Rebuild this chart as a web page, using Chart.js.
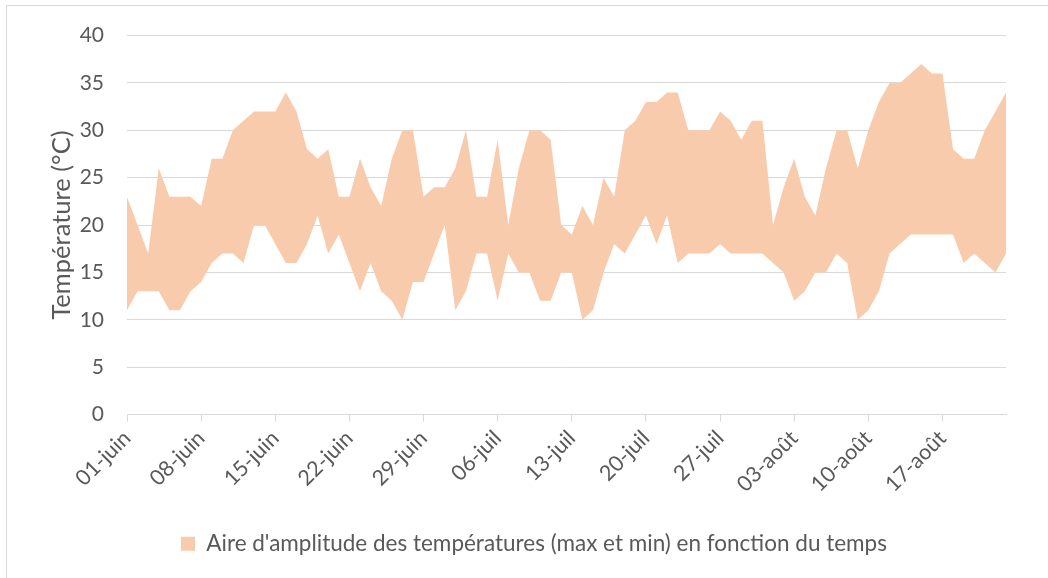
<!DOCTYPE html>
<html>
<head>
<meta charset="utf-8">
<script src="https://cdn.jsdelivr.net/npm/chart.js@4"></script>
<style>
  body { margin: 0; background: #fff; }
  #frame { position: absolute; left: 6px; top: 5px; width: 1100px; height: 640px; border: 1px solid #d9d9d9; }
  #chart { position: absolute; left: 0; top: 0; }
</style>
</head>
<body>
<div id="frame"></div>
<canvas id="chart" width="1048" height="578"></canvas>
<script>
  var days = [
    '01-juin','02-juin','03-juin','04-juin','05-juin','06-juin','07-juin','08-juin','09-juin','10-juin',
    '11-juin','12-juin','13-juin','14-juin','15-juin','16-juin','17-juin','18-juin','19-juin','20-juin',
    '21-juin','22-juin','23-juin','24-juin','25-juin','26-juin','27-juin','28-juin','29-juin','30-juin',
    '01-juil','02-juil','03-juil','04-juil','05-juil','06-juil','07-juil','08-juil','09-juil','10-juil',
    '11-juil','12-juil','13-juil','14-juil','15-juil','16-juil','17-juil','18-juil','19-juil','20-juil',
    '21-juil','22-juil','23-juil','24-juil','25-juil','26-juil','27-juil','28-juil','29-juil','30-juil',
    '31-juil','01-août','02-août','03-août','04-août','05-août','06-août','07-août','08-août','09-août',
    '10-août','11-août','12-août','13-août','14-août','15-août','16-août','17-août','18-août','19-août',
    '20-août','21-août','22-août','23-août'
  ];

  var tempMax = [
    23, 20, 17, 26, 23, 23, 23, 22, 27, 27, 30, 31, 32, 32, 32, 34, 32, 28, 27, 28, 23,
    23, 27, 24, 22, 27, 30, 30, 23, 24, 24, 26, 30, 23, 23, 29, 20, 26, 30, 30, 29, 20, 19,
    22, 20, 25, 23, 30, 31, 33, 33, 34, 34, 30, 30, 30, 32, 31, 29, 31, 31, 20, 24, 27,
    23, 21, 26, 30, 30, 26, 30, 33, 35, 35, 36, 37, 36, 36, 28, 27, 27, 30, 32, 34
  ];

  var tempMin = [
    11, 13, 13, 13, 11, 11, 13, 14, 16, 17, 17, 16, 20, 20, 18, 16, 16, 18, 21, 17, 19,
    16, 13, 16, 13, 12, 10, 14, 14, 17, 20, 11, 13, 17, 17, 12, 17, 15, 15, 12, 12, 15, 15,
    10, 11, 15, 18, 17, 19, 21, 18, 21, 16, 17, 17, 17, 18, 17, 17, 17, 17, 16, 15, 12,
    13, 15, 15, 17, 16, 10, 11, 13, 17, 18, 19, 19, 19, 19, 19, 16, 17, 16, 15, 17
  ];

  var yTicks = [0, 5, 10, 15, 20, 25, 30, 35, 40];
  var seriesLabel = "Aire d'amplitude des températures (max et min) en fonction du temps";
  var yTitle = 'Température (°C)';

  var fillColor = '#f8cbad';
  var textColor = '#595959';
  var gridColor = '#d9d9d9';
  var fontFamily = 'Lato, "Open Sans", sans-serif';

  // the legend sits a little right of the plot centre, as in the original
  var legendShift = {
    id: 'legendShift',
    afterLayout: function(chart) {
      chart.legend.left += 31;
      chart.legend.right += 31;
    }
  };

  new Chart(document.getElementById('chart'), {
    type: 'line',
    data: {
      labels: days,
      datasets: [{
        label: seriesLabel,
        data: tempMax,
        fill: '+1',
        backgroundColor: fillColor,
        borderColor: fillColor,
        borderWidth: 0,
        pointRadius: 0,
        tension: 0
      }, {
        label: 'min',
        data: tempMin,
        fill: false,
        backgroundColor: fillColor,
        borderColor: fillColor,
        borderWidth: 0,
        pointRadius: 0,
        tension: 0
      }]
    },
    plugins: [legendShift],
    options: {
      responsive: false,
      animation: false,
      layout: { padding: { left: 0, right: 42, top: 35, bottom: 13 } },
      plugins: {
        tooltip: { enabled: false },
        legend: {
          position: 'bottom',
          labels: {
            boxWidth: 14,
            boxHeight: 14,
            padding: 10,
            color: textColor,
            font: { family: fontFamily, size: 22.5 },
            filter: function(item) { return item.datasetIndex === 0; }
          }
        }
      },
      scales: {
        x: {
          offset: false,
          grid: {
            drawOnChartArea: false,
            tickLength: 7,
            color: function(ctx) { return ctx.index % 7 === 0 ? gridColor : 'transparent'; }
          },
          border: { display: true, color: gridColor, width: 1 },
          ticks: {
            autoSkip: false,
            maxRotation: 45,
            minRotation: 45,
            padding: 4,
            color: textColor,
            font: { family: fontFamily, size: 21.5 },
            callback: function(v, i) { return i % 7 === 0 ? days[i] : ''; }
          },
          afterFit: function(scale) { scale.height = 108; }
        },
        y: {
          min: yTicks[0],
          max: yTicks[yTicks.length - 1],
          afterBuildTicks: function(scale) {
            scale.ticks = yTicks.map(function(v) { return { value: v }; });
          },
          grid: { color: gridColor, drawTicks: false },
          border: { display: false },
          ticks: {
            padding: 23,
            color: textColor,
            font: { family: fontFamily, size: 21 }
          },
          title: {
            display: true,
            text: yTitle,
            color: textColor,
            padding: { top: 46, bottom: 0 },
            font: { family: fontFamily, size: 25.5 }
          },
          afterFit: function(scale) { scale.width = 127; }
        }
      }
    }
  });
</script>
</body>
</html>
